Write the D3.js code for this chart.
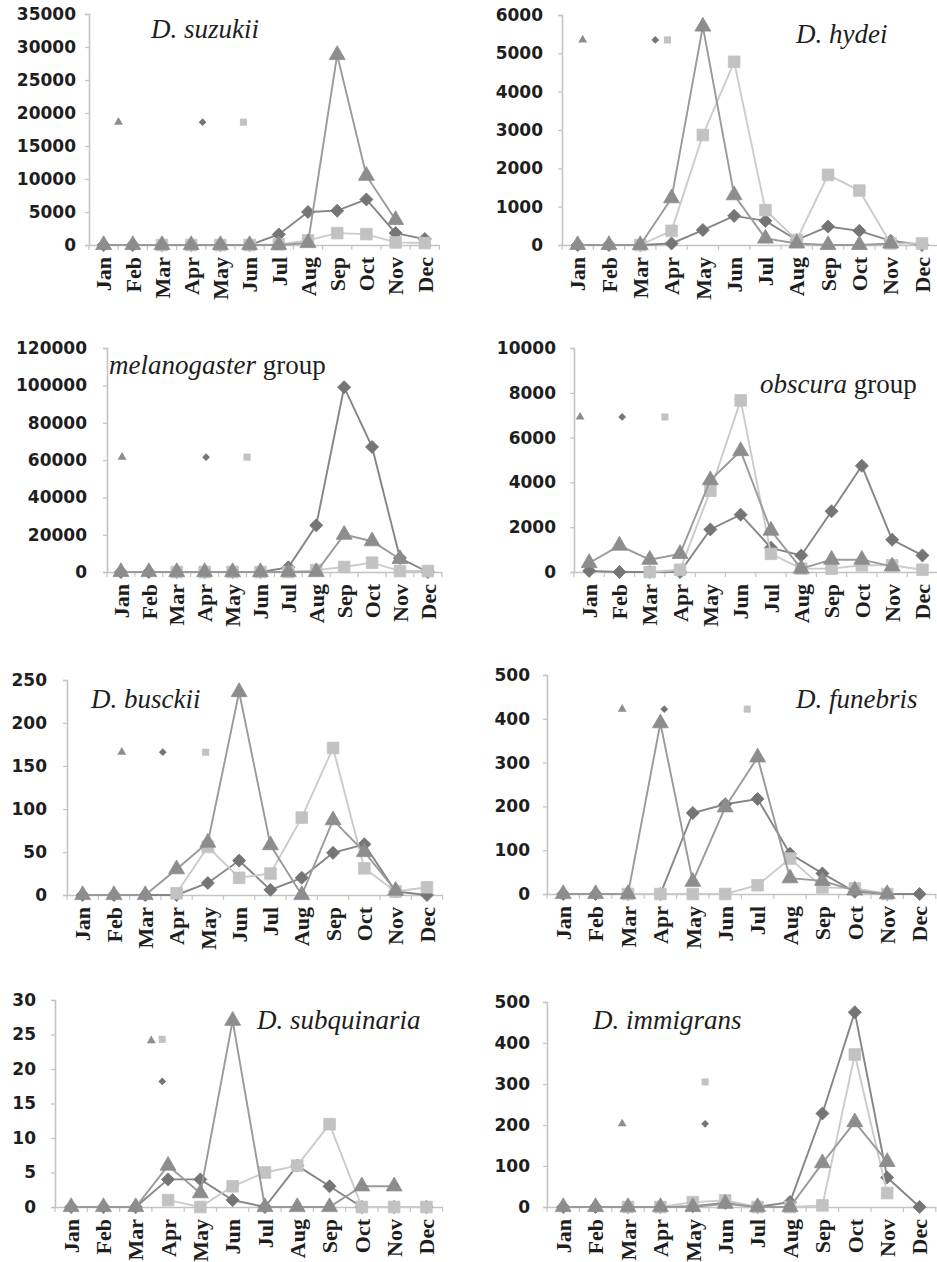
<!DOCTYPE html>
<html>
<head>
<meta charset="utf-8">
<script src="https://cdn.jsdelivr.net/npm/d3@7"></script>
<style>
  body { margin: 0; background: #fff; }
  svg { display: block; }
</style>
</head>
<body>
<div id="chart"></div>
<script>
// months on the x axis
const months = ["Jan", "Feb", "Mar", "Apr", "May", "Jun", "Jul", "Aug", "Sep", "Oct", "Nov", "Dec"];

// D. suzukii
const suzukiiDiamond = [0, 0, 0, 0, 0, 0, 1600, 5000, 5200, 6900, 1800, 900];
const suzukiiSquare = [null, null, 0, 0, 0, 0, 100, 700, 1800, 1650, 400, 300];
const suzukiiTriangle = [0, 0, 0, 0, 0, 0, 0, 300, 28800, 10500, 3800, null];
const suzukiiTicks = [0, 5000, 10000, 15000, 20000, 25000, 30000, 35000];

// D. hydei
const hydeiDiamond = [0, 0, 0, 40, 390, 760, 630, 130, 480, 370, 110, 0];
const hydeiSquare = [null, null, 0, 370, 2870, 4780, 910, 130, 1830, 1420, 40, 40];
const hydeiTriangle = [0, 0, 0, 1220, 5700, 1300, 170, 40, 0, 0, 40, null];
const hydeiTicks = [0, 1000, 2000, 3000, 4000, 5000, 6000];

// melanogaster group
const melanoDiamond = [0, 0, 0, 0, 0, 0, 2500, 25000, 99000, 67000, 7500, 0];
const melanoSquare = [null, null, 0, 0, 0, 0, 0, 1000, 2700, 5000, 500, 500];
const melanoTriangle = [0, 0, 0, 0, 0, 0, 0, 0, 20000, 16500, 7000, null];
const melanoTicks = [0, 20000, 40000, 60000, 80000, 100000, 120000];

// obscura group
const obscuraDiamond = [50, 0, 0, 0, 1900, 2560, 1080, 740, 2710, 4740, 1440, 740];
const obscuraSquare = [null, null, 0, 100, 3630, 7660, 810, 150, 150, 300, 300, 100];
const obscuraTriangle = [400, 1180, 550, 810, 4100, 5400, 1850, 150, 550, 550, 250, null];
const obscuraTicks = [0, 2000, 4000, 6000, 8000, 10000];

// D. busckii
const busckiiDiamond = [0, 0, 0, 0, 14, 40, 6, 20, 49, 59, 4, 0];
const busckiiSquare = [null, null, null, 2, 56, 20, 25, 90, 171, 31, 4, 9];
const busckiiTriangle = [0, 0, 0, 30, 61, 236, 58, 0, 87, 50, 5, null];
const busckiiTicks = [0, 50, 100, 150, 200, 250];

// D. funebris
const funebrisDiamond = [0, 0, 0, 0, 185, 205, 217, 92, 47, 5, 0, 0];
const funebrisSquare = [null, null, 0, 0, 0, 0, 20, 81, 15, 13, 0, null];
const funebrisTriangle = [0, 0, 0, 390, 28, 198, 312, 36, 30, 8, 0, null];
const funebrisTicks = [0, 100, 200, 300, 400, 500];

// D. subquinaria
const subquinariaDiamond = [0, 0, 0, 4, 4, 1, 0, 6, 3, 0, 0, 0];
const subquinariaSquare = [null, null, null, 1, 0, 3, 5, 6, 12, 0, 0, 0];
const subquinariaTriangle = [0, 0, 0, 6, 2, 27, 0, 0, 0, 3, 3, null];
const subquinariaTicks = [0, 5, 10, 15, 20, 25, 30];

// D. immigrans
const immigransDiamond = [0, 0, 0, 0, 2, 10, 0, 12, 228, 475, 72, 0];
const immigransSquare = [null, null, 0, 0, 12, 16, 0, 0, 4, 372, 34, null];
const immigransTriangle = [0, 0, 0, 0, 0, 8, 0, 0, 107, 207, 110, null];
const immigransTicks = [0, 100, 200, 300, 400, 500];

// stray key markers left in each panel (month index, value)
const suzukiiKey = {triangle: [0.51, 18600], diamond: [3.39, 18600], square: [4.79, 18600]};
const hydeiKey = {triangle: [0.16, 5350], diamond: [2.48, 5350], square: [2.87, 5350]};
const melanoKey = {triangle: [0.04, 61500], diamond: [3.05, 61500], square: [4.52, 61500]};
const obscuraKey = {triangle: [-0.3, 6920], diamond: [1.09, 6920], square: [2.5, 6920]};
const busckiiKey = {triangle: [1.25, 166], diamond: [2.56, 166], square: [3.93, 166]};
const funebrisKey = {triangle: [1.82, 422], diamond: [3.12, 422], square: [5.68, 422]};
const subquinariaKey = {triangle: [2.48, 24.1], diamond: [2.82, 18.2], square: [2.82, 24.3]};
const immigransKey = {triangle: [1.82, 203], diamond: [4.38, 203], square: [4.38, 305]};

// panel layout: plot box, clip cell, label gap, title position
let panels = [
  {title: [["D. suzukii", true]], diamond: suzukiiDiamond, square: suzukiiSquare, triangle: suzukiiTriangle,
   ticks: suzukiiTicks, key: suzukiiKey, x0: 89, step: 29.2, top: 14, zero: 245, gap: 13,
   cell: [0, 0, 467, 315], tx: 151, ty: 38},
  {title: [["D. hydei", true]], diamond: hydeiDiamond, square: hydeiSquare, triangle: hydeiTriangle,
   ticks: hydeiTicks, key: hydeiKey, x0: 562, step: 31.3, top: 15, zero: 245, gap: 19,
   cell: [467, 0, 470, 315], tx: 796, ty: 43},
  {title: [["melanogaster", true], [" group", false]], diamond: melanoDiamond, square: melanoSquare, triangle: melanoTriangle,
   ticks: melanoTicks, key: melanoKey, x0: 107, step: 27.9, top: 348, zero: 572, gap: 20,
   cell: [0, 315, 467, 313], tx: 109, ty: 374},
  {title: [["obscura", true], [" group", false]], diamond: obscuraDiamond, square: obscuraSquare, triangle: obscuraTriangle,
   ticks: obscuraTicks, key: obscuraKey, x0: 574, step: 30.3, top: 348, zero: 572, gap: 18,
   cell: [467, 315, 470, 313], tx: 760, ty: 393},
  {title: [["D. busckii", true]], diamond: busckiiDiamond, square: busckiiSquare, triangle: busckiiTriangle,
   ticks: busckiiTicks, key: busckiiKey, x0: 67, step: 31.3, top: 680, zero: 895, gap: 20,
   cell: [0, 628, 467, 322], tx: 91, ty: 708},
  {title: [["D. funebris", true]], diamond: funebrisDiamond, square: funebrisSquare, triangle: funebrisTriangle,
   ticks: funebrisTicks, key: funebrisKey, x0: 547, step: 32.4, top: 675, zero: 894, gap: 17,
   cell: [467, 628, 470, 322], tx: 796, ty: 708},
  {title: [["D. subquinaria", true]], diamond: subquinariaDiamond, square: subquinariaSquare, triangle: subquinariaTriangle,
   ticks: subquinariaTicks, key: subquinariaKey, x0: 55, step: 32.3, top: 1000, zero: 1207, gap: 19,
   cell: [0, 950, 467, 312], tx: 257, ty: 1029},
  {title: [["D. immigrans", true]], diamond: immigransDiamond, square: immigransSquare, triangle: immigransTriangle,
   ticks: immigransTicks, key: immigransKey, x0: 547, step: 32.4, top: 1002, zero: 1207, gap: 17,
   cell: [467, 950, 470, 312], tx: 593, ty: 1029}
];

// series styles, drawn in this order
let seriesStyle = [
  {name: "diamond", fill: "#757575", line: "#858585", size: 85, keySize: 30},
  {name: "square", fill: "#c2c2c2", line: "#cbcbcb", size: 135, keySize: 50},
  {name: "triangle", fill: "#8d8d8d", line: "#9a9a9a", size: 110, keySize: 34}
];

function symbolFor(name, size) {
  if (name === "triangle") return d3.symbol().type(d3.symbolTriangle).size(size)();
  return d3.symbol().type(d3.symbolSquare).size(size)();
}

let svg = d3.select("#chart")
  .append("svg")
  .attr("width", 937)
  .attr("height", 1262);

let defs = svg.append("defs");

panels.forEach(function (p, pi) {
  defs.append("clipPath")
    .attr("id", "cell" + pi)
    .append("rect")
    .attr("x", p.cell[0]).attr("y", p.cell[1])
    .attr("width", p.cell[2]).attr("height", p.cell[3]);

  let g = svg.append("g").attr("clip-path", "url(#cell" + pi + ")");

  let x = d3.scaleBand()
    .domain(months)
    .range([p.x0, p.x0 + 12 * p.step]);
  let bw = x.bandwidth();
  let xc = i => x(months[0]) + (i + 0.5) * bw;

  let y = d3.scaleLinear()
    .domain([0, d3.max(p.ticks)])
    .range([p.zero, p.top]);

  // Y axis
  let yAxis = g.append("g")
    .attr("transform", "translate(" + p.x0 + ",0)")
    .call(d3.axisLeft(y).tickValues(p.ticks).tickSize(4).tickPadding(p.gap - 4).tickFormat(d3.format("d")));
  yAxis.select(".domain").attr("stroke", "#c4c4c4").attr("stroke-width", 1.6);
  yAxis.selectAll(".tick line").attr("stroke", "#c4c4c4").attr("stroke-width", 1.2);
  yAxis.selectAll("text")
    .attr("fill", "#1e1e1e")
    .style("font-family", "'DejaVu Sans', sans-serif")
    .style("font-weight", "bold")
    .style("font-size", "17px");

  // X axis with rotated month labels
  let xAxis = g.append("g")
    .attr("transform", "translate(0," + p.zero + ")")
    .call(d3.axisBottom(x).tickSize(0).tickSizeOuter(0));
  xAxis.select(".domain").attr("stroke", "#c4c4c4").attr("stroke-width", 1.6);
  xAxis.selectAll("text")
    .attr("transform", "rotate(-90)")
    .attr("x", -12)
    .attr("y", 0)
    .attr("dy", "0.35em")
    .style("text-anchor", "end")
    .attr("fill", "#1e1e1e")
    .style("font-family", "'Liberation Serif', serif")
    .style("font-weight", "bold")
    .style("font-size", "22px");

  // tick marks between categories
  xAxis.selectAll(".sep")
    .data(d3.range(13))
    .enter()
    .append("line")
    .attr("x1", i => x(months[0]) + i * bw)
    .attr("x2", i => x(months[0]) + i * bw)
    .attr("y1", 0)
    .attr("y2", 5)
    .attr("stroke", "#c4c4c4")
    .attr("stroke-width", 1.2);

  // series
  seriesStyle.forEach(function (s) {
    let vals = p[s.name];
    let line = d3.line()
      .defined(d => d != null)
      .x((d, i) => xc(i))
      .y(d => y(d));

    g.append("path")
      .datum(vals)
      .attr("fill", "none")
      .attr("stroke", s.line)
      .attr("stroke-width", 1.9)
      .attr("d", line);

    g.selectAll(".m-" + s.name)
      .data(vals.map((v, i) => ({v: v, i: i})).filter(d => d.v != null))
      .enter()
      .append("path")
      .attr("class", "m-" + s.name)
      .attr("d", symbolFor(s.name, s.size))
      .attr("transform", d => "translate(" + xc(d.i) + "," + y(d.v) + ")" + (s.name === "diamond" ? " rotate(45)" : ""))
      .attr("fill", s.fill)
      .attr("stroke", s.fill)
      .attr("stroke-width", 0.8);
  });

  // leftover key markers
  seriesStyle.forEach(function (s) {
    let k = p.key[s.name];
    g.append("path")
      .attr("d", symbolFor(s.name, s.keySize))
      .attr("transform", "translate(" + xc(k[0]) + "," + y(k[1]) + ")" + (s.name === "diamond" ? " rotate(45)" : ""))
      .attr("fill", s.fill);
  });

  // panel title
  let t = g.append("text")
    .attr("x", p.tx)
    .attr("y", p.ty)
    .attr("fill", "#1e1e1e")
    .style("font-family", "'Liberation Serif', serif")
    .style("font-size", "27px");
  p.title.forEach(function (part) {
    t.append("tspan")
      .style("font-style", part[1] ? "italic" : "normal")
      .text(part[0]);
  });
});
</script>
</body>
</html>
